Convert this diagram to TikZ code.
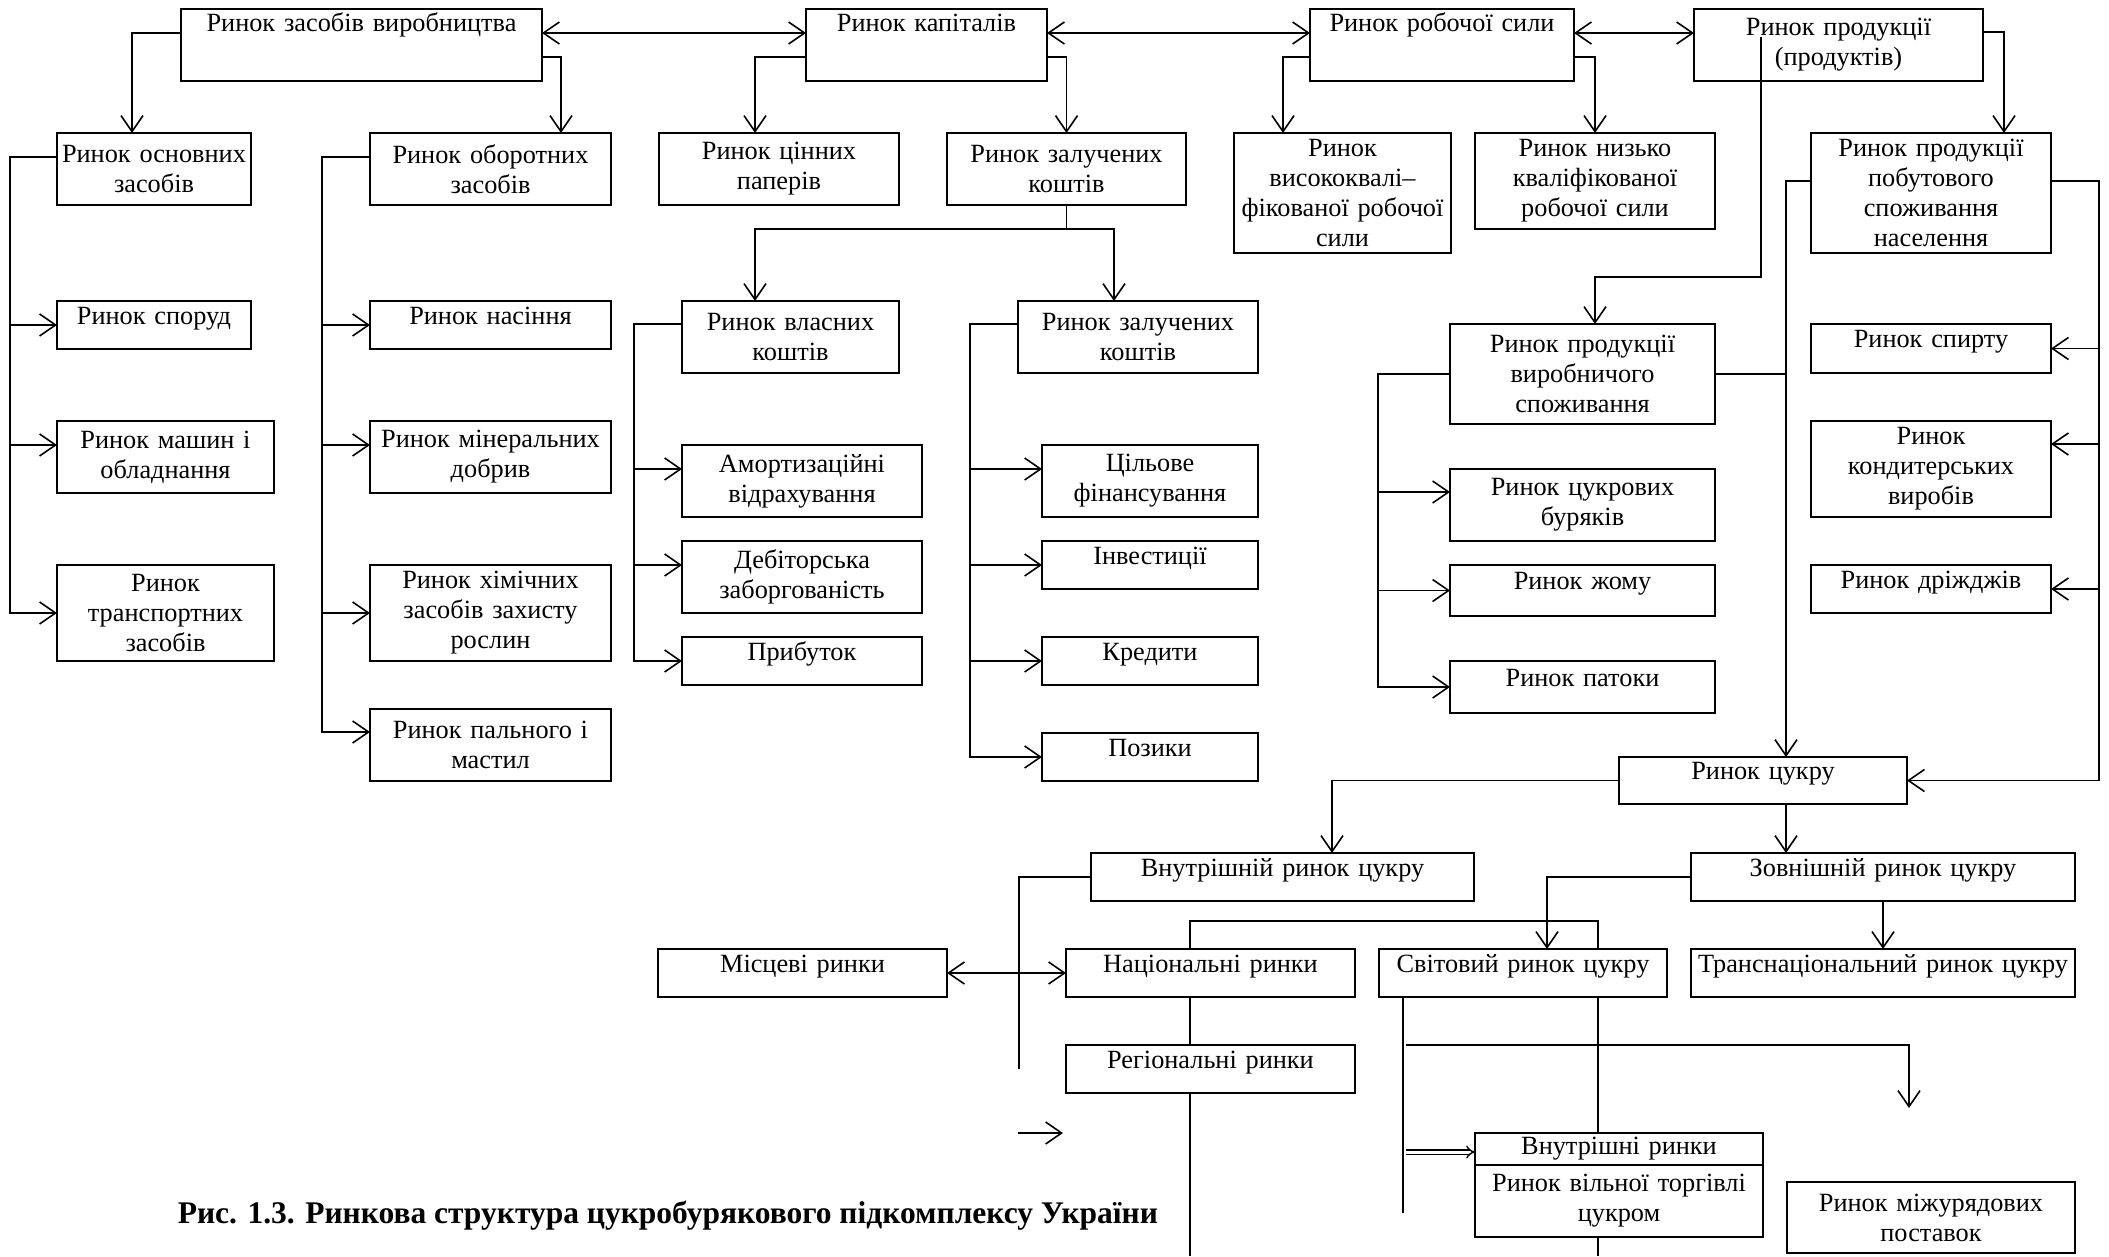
\documentclass[tikz,border=0pt]{standalone}
\usepackage{fontspec}
\setmainfont{Liberation Serif}
\usetikzlibrary{arrows.meta,positioning}
\begin{document}
\begin{tikzpicture}[x=1pt, y=-1pt, line width=1.6pt, >={Straight Barb[length=16pt,width=22pt]},
  box/.style={draw, line width=2pt, inner sep=0pt, outer sep=0pt, align=center, font=\fontsize{26.3}{30}\selectfont},
  lift/.style={text height=18pt, text depth=20pt},
  toptext/.style={text height=18pt, text depth=46pt}]
\useasboundingbox (0,0) rectangle (2109,1256);

\node[box, text width=361pt, minimum height=72pt, toptext] (1) at (361.5,45) {Ринок засобів виробництва};
\node[box, text width=241pt, minimum height=72pt, toptext] (2) at (926.5,45) {Ринок капіталів};
\node[box, text width=264pt, minimum height=72pt, toptext] (3) at (1442,45) {Ринок робочої сили};
\node[box, text width=289pt, minimum height=72pt] (4) at (1838.5,45) {Ринок продукції\\(продуктів)};

\node[box, text width=194pt, minimum height=72pt] (5) at (154,169) {Ринок основних\\засобів};
\node[box, text width=241pt, minimum height=72pt] (6) at (490.5,169) {Ринок оборотних\\засобів};
\node[box, text width=240pt, minimum height=72pt] (7) at (779,169) {Ринок цінних\\паперів};
\node[box, text width=239pt, minimum height=72pt] (8) at (1066.5,169) {Ринок залучених\\коштів};
\node[box, text width=217pt, minimum height=120pt] (9) at (1342.5,193) {Ринок\\висококвалі–\\фікованої робочої\\сили};
\node[box, text width=240pt, minimum height=96pt] (10) at (1595,181) {Ринок низько\\кваліфікованої\\робочої сили};
\node[box, text width=240pt, minimum height=120pt] (11) at (1931,193) {Ринок продукції\\побутового\\споживання\\населення};

\node[box, text width=194pt, minimum height=48pt, lift] (12) at (154,325) {Ринок споруд};
\node[box, text width=217pt, minimum height=72pt] (13) at (165.5,457) {Ринок машин і\\обладнання};
\node[box, text width=217pt, minimum height=96pt] (14) at (165.5,613) {Ринок\\транспортних\\засобів};

\node[box, text width=241pt, minimum height=48pt, lift] (15) at (490.5,325) {Ринок насіння};
\node[box, text width=241pt, minimum height=72pt] (16) at (490.5,457) {Ринок мінеральних\\добрив};
\node[box, text width=241pt, minimum height=96pt] (17) at (490.5,613) {Ринок хімічних\\засобів захисту\\рослин};
\node[box, text width=241pt, minimum height=72pt] (18) at (490.5,745) {Ринок пального і\\мастил};

\node[box, text width=217pt, minimum height=72pt] (19) at (790.5,337) {Ринок власних\\коштів};
\node[box, text width=240pt, minimum height=72pt] (20) at (1138,337) {Ринок залучених\\коштів};
\node[box, text width=240pt, minimum height=72pt] (21) at (802,481) {Амортизаційні\\відрахування};
\node[box, text width=240pt, minimum height=72pt] (22) at (802,577) {Дебіторська\\заборгованість};
\node[box, text width=240pt, minimum height=48pt, lift] (23) at (802,661) {Прибуток};
\node[box, text width=216pt, minimum height=72pt] (24) at (1150,481) {Цільове\\фінансування};
\node[box, text width=216pt, minimum height=48pt, lift] (25) at (1150,565) {Інвестиції};
\node[box, text width=216pt, minimum height=48pt, lift] (26) at (1150,661) {Кредити};
\node[box, text width=216pt, minimum height=48pt, lift] (27) at (1150,757) {Позики};

\node[box, text width=265pt, minimum height=100pt] (28) at (1582.5,374) {Ринок продукції\\виробничого\\споживання};
\node[box, text width=265pt, minimum height=72pt] (29) at (1582.5,505) {Ринок цукрових\\буряків};
\node[box, text width=265pt, minimum height=51pt, lift] (30) at (1582.5,590.5) {Ринок жому};
\node[box, text width=265pt, minimum height=52pt, lift] (31) at (1582.5,687) {Ринок патоки};
\node[box, text width=240pt, minimum height=49pt, lift] (32) at (1931,348.5) {Ринок спирту};
\node[box, text width=240pt, minimum height=96pt] (33) at (1931,469) {Ринок\\кондитерських\\виробів};
\node[box, text width=240pt, minimum height=48pt, lift] (34) at (1931,589) {Ринок дріжджів};

\node[box, text width=288pt, minimum height=47pt, lift] (35) at (1763,780.5) {Ринок цукру};
\node[box, text width=383pt, minimum height=48pt, lift] (36) at (1282.5,877) {Внутрішній ринок цукру};
\node[box, text width=384pt, minimum height=48pt, lift] (37) at (1883,877) {Зовнішній ринок цукру};
\node[box, text width=289pt, minimum height=48pt, lift] (38) at (802.5,973) {Місцеві ринки};
\node[box, text width=289pt, minimum height=48pt, lift] (39) at (1210.5,973) {Національні ринки};
\node[box, text width=288pt, minimum height=48pt, lift] (40) at (1523,973) {Світовий ринок цукру};
\node[box, text width=384pt, minimum height=48pt, lift] (41) at (1883,973) {Транснаціональний ринок цукру};
\node[box, text width=289pt, minimum height=48pt, lift] (42) at (1210.5,1069) {Регіональні ринки};
\node[box, text width=288pt, minimum height=32pt] (43) at (1619,1149) {Внутрішні ринки};
\node[box, text width=288pt, minimum height=72pt, below=0pt of 43] (44) {Ринок вільної торгівлі\\цукром};
\node[box, text width=288pt, minimum height=71pt] (45) at (1931,1217.5) {Ринок міжурядових\\поставок};

\node[anchor=west, inner sep=0pt, font=\bfseries\fontsize{31.5}{36}\selectfont] (46) at (177,1216) {Рис. 1.3. Ринкова структура цукробурякового підкомплексу України};

\coordinate (c1) at (1761,37);
\coordinate (e1) at (1019,1069);
\coordinate (e2) at (1018,1133);
\coordinate (e3) at (1063,1133);
\coordinate (e4) at (1406,1045);
\coordinate (e5) at (1909,1108);
\coordinate (e6) at (1406,1152);

\draw[<->] (1.east |- 0,33) -- (2.west |- 0,33);
\draw[<->] (2.east |- 0,33) -- (3.west |- 0,33);
\draw[<->] (3.east |- 0,33) -- (4.west |- 0,33);
\draw[->] (1.west |- 0,33) -| (5.north -| 132,0);
\draw[->] (1.east |- 0,57) -| (6.north -| 561,0);
\draw[->] (2.west |- 0,57) -| (7.north -| 755,0);
\draw[->] (2.east |- 0,57) -| (8.north);
\draw[->] (3.west |- 0,57) -| (9.north -| 1283,0);
\draw[->] (3.east |- 0,57) -| (10.north);
\draw[->] (4.east |- 0,32) -| (11.north -| 2004,0);
\draw[->] (c1) -- ++(0,240) -| (28.north -| 1595,0);

\draw[->] (5.west |- 0,157) -- ++(-47,0) |- (12.west);
\draw[->] (5.west |- 0,157) -- ++(-47,0) |- (13.west |- 0,445);
\draw[->] (5.west |- 0,157) -- ++(-47,0) |- (14.west);
\draw[->] (6.west |- 0,157) -- ++(-48,0) |- (15.west);
\draw[->] (6.west |- 0,157) -- ++(-48,0) |- (16.west |- 0,445);
\draw[->] (6.west |- 0,157) -- ++(-48,0) |- (17.west);
\draw[->] (6.west |- 0,157) -- ++(-48,0) |- (18.west |- 0,732);

\draw[->] (8.south) -- ++(0,24) -| (19.north -| 755,0);
\draw[->] (8.south) -- ++(0,24) -| (20.north -| 1114,0);
\draw[->] (19.west |- 0,324) -- ++(-48,0) |- (21.west |- 0,469);
\draw[->] (19.west |- 0,324) -- ++(-48,0) |- (22.west |- 0,565);
\draw[->] (19.west |- 0,324) -- ++(-48,0) |- (23.west);
\draw[->] (20.west |- 0,324) -- ++(-48,0) |- (24.west |- 0,469);
\draw[->] (20.west |- 0,324) -- ++(-48,0) |- (25.west);
\draw[->] (20.west |- 0,324) -- ++(-48,0) |- (26.west);
\draw[->] (20.west |- 0,324) -- ++(-48,0) |- (27.west);

\draw[->] (28.west) -- ++(-72,0) |- (29.west |- 0,492);
\draw[->] (28.west) -- ++(-72,0) |- (30.west);
\draw[->] (28.west) -- ++(-72,0) |- (31.west);
\draw (28.east) -- (28.east -| 1786,0);
\draw[->] (11.west |- 0,181) -| (35.north -| 1786,0);
\draw[->] (11.east |- 0,181) -| (2099,0 |- 32.east) -- (32.east);
\draw[->] (11.east |- 0,181) -| (2099,444) -- (33.east |- 0,444);
\draw[->] (11.east |- 0,181) -| (2099,0 |- 34.east) -- (34.east);
\draw[->] (11.east |- 0,181) -| (2099,0 |- 35.east) -- (35.east);

\draw[->] (35.west) -| (36.north -| 1332,0);
\draw[->] (35.south -| 1786,0) -- (37.north -| 1786,0);
\draw[->] (37.west) -| (40.north -| 1547,0);
\draw[->] (37.south) -- (41.north);
\draw (36.west) -| (e1);
\draw[<->] (38.east) -- (39.west);
\draw[->] (e2) -- (e3);
\draw (39.north -| 1190,0) -- ++(0,-28) -| (40.north -| 1598,0);
\draw (39.south -| 1190,0) -- (42.north -| 1190,0);
\draw (42.south -| 1190,0) -- ++(0,163);
\draw (40.south -| 1403,0) -- ++(0,216);
\draw (40.south -| 1598,0) -- (43.north -| 1598,0);
\draw (44.south -| 1598,0) -- ++(0,19);
\draw[->] (e4) -| (e5);
\draw[double, double distance=3pt, line width=1.4pt, -{Implies}] (e6) -- (43.west |- e6);

\end{tikzpicture}
\end{document}
